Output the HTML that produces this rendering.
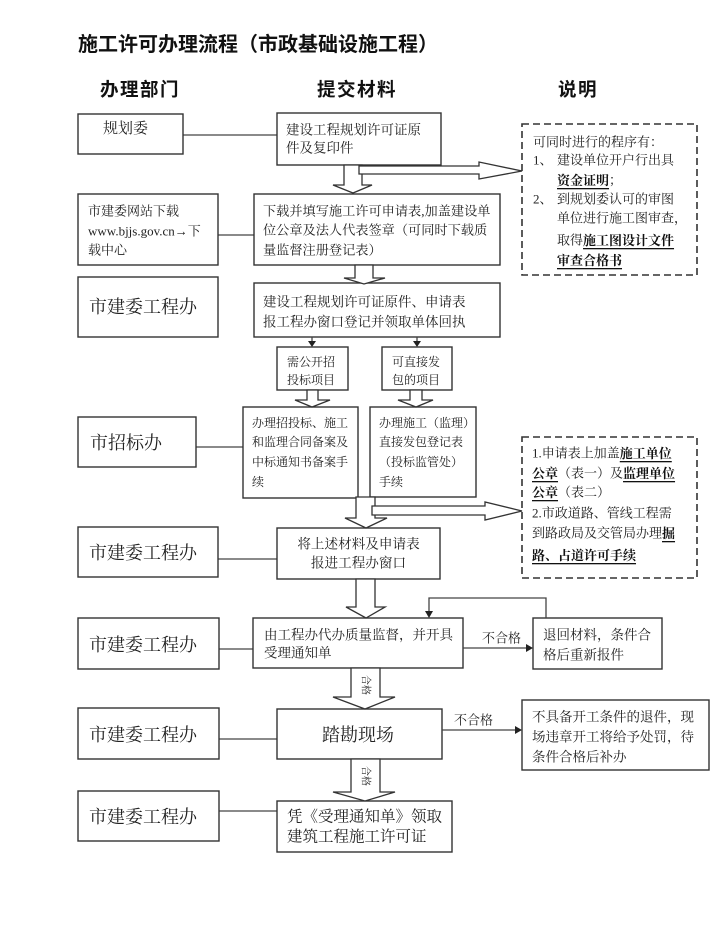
<!DOCTYPE html>
<html><head><meta charset="utf-8"><style>
html,body{margin:0;padding:0;background:#fff;}
svg{display:block;}
.t{font-family:"Liberation Serif","Noto Serif CJK SC",serif;fill:#222;dominant-baseline:central;}
.h{font-family:"Liberation Sans","Noto Sans CJK SC",sans-serif;font-weight:700;fill:#111;}
.b{font-weight:700;text-decoration:underline;fill:#111;}
.box{fill:#fff;stroke:#333;stroke-width:1.4;}
.dash{fill:#fff;stroke:#333;stroke-width:1.6;stroke-dasharray:7,4;}
.ln{stroke:#444;stroke-width:1.3;fill:none;}
.ha{fill:#fff;stroke:#333;stroke-width:1.3;}
</style></head><body>
<svg width="728" height="933" viewBox="0 0 728 933" xmlns="http://www.w3.org/2000/svg">
<rect width="728" height="933" fill="#fff"/>
<!-- titles -->
<text class="h" x="78" y="51" font-size="20">施工许可办理流程（市政基础设施工程）</text>
<text class="h" x="100" y="96" font-size="18.5" letter-spacing="1.5">办理部门</text>
<text class="h" x="317" y="96" font-size="18.5" letter-spacing="1.5">提交材料</text>
<text class="h" x="558" y="96" font-size="18.5" letter-spacing="1.5">说明</text>

<!-- connector lines left-right -->
<line class="ln" x1="183" y1="135" x2="277" y2="135"/>
<line class="ln" x1="218" y1="235" x2="254" y2="235"/>
<line class="ln" x1="196" y1="447" x2="243" y2="447"/>
<line class="ln" x1="218" y1="559" x2="277" y2="559"/>
<line class="ln" x1="219" y1="649" x2="253" y2="649"/>
<line class="ln" x1="219" y1="739" x2="277" y2="739"/>
<line class="ln" x1="219" y1="811" x2="277" y2="811"/>

<!-- left boxes -->
<rect class="box" x="78" y="114" width="105" height="40"/>
<text class="t" x="103" y="129" font-size="15">规划委</text>
<rect class="box" x="78" y="194" width="140" height="71"/>
<text class="t" x="88" y="211" font-size="13">市建委网站下载</text>
<text class="t" x="88" y="231" font-size="13">www.bjjs.gov.cn→下</text>
<text class="t" x="88" y="250" font-size="13">载中心</text>
<rect class="box" x="78" y="277" width="140" height="60"/>
<text class="t" x="89" y="307" font-size="18">市建委工程办</text>
<rect class="box" x="78" y="417" width="118" height="50"/>
<text class="t" x="90" y="443" font-size="18">市招标办</text>
<rect class="box" x="78" y="527" width="140" height="50"/>
<text class="t" x="89" y="553" font-size="18">市建委工程办</text>
<rect class="box" x="78" y="618" width="141" height="51"/>
<text class="t" x="89" y="645" font-size="18">市建委工程办</text>
<rect class="box" x="78" y="708" width="141" height="51"/>
<text class="t" x="89" y="735" font-size="18">市建委工程办</text>
<rect class="box" x="78" y="791" width="141" height="50"/>
<text class="t" x="89" y="817" font-size="18">市建委工程办</text>

<!-- middle boxes -->
<rect class="box" x="277" y="113" width="164" height="52"/>
<text class="t" x="286" y="130" font-size="13.5">建设工程规划许可证原</text>
<text class="t" x="286" y="148" font-size="13.5">件及复印件</text>

<rect class="box" x="254" y="194" width="246" height="71"/>
<text class="t" x="263" y="211" font-size="13.2">下载并填写施工许可申请表,加盖建设单</text>
<text class="t" x="263" y="230" font-size="13.2">位公章及法人代表签章（可同时下载质</text>
<text class="t" x="263" y="250" font-size="13.2">量监督注册登记表）</text>

<rect class="box" x="254" y="283" width="246" height="54"/>
<text class="t" x="263" y="302" font-size="13.5">建设工程规划许可证原件、申请表</text>
<text class="t" x="263" y="322" font-size="13.5">报工程办窗口登记并领取单体回执</text>

<!-- small arrows -->
<line class="ln" x1="312" y1="337" x2="312" y2="342"/>
<polygon points="308,341 316,341 312,347" fill="#222"/>
<line class="ln" x1="417" y1="337" x2="417" y2="342"/>
<polygon points="413,341 421,341 417,347" fill="#222"/>

<rect class="box" x="277" y="347" width="71" height="43"/>
<text class="t" x="287" y="362" font-size="12">需公开招</text>
<text class="t" x="287" y="380" font-size="12">投标项目</text>
<rect class="box" x="382" y="347" width="70" height="43"/>
<text class="t" x="392" y="362" font-size="12">可直接发</text>
<text class="t" x="392" y="380" font-size="12">包的项目</text>

<rect class="box" x="243" y="407" width="115" height="91"/>
<text class="t" x="252" y="423" font-size="12">办理招投标、施工</text>
<text class="t" x="252" y="442" font-size="12">和监理合同备案及</text>
<text class="t" x="252" y="462" font-size="12">中标通知书备案手</text>
<text class="t" x="252" y="482" font-size="12">续</text>
<rect class="box" x="370" y="407" width="106" height="90"/>
<text class="t" x="379" y="423" font-size="12">办理施工（监理）</text>
<text class="t" x="379" y="442" font-size="12">直接发包登记表</text>
<text class="t" x="379" y="462" font-size="12">（投标监管处）</text>
<text class="t" x="379" y="482" font-size="12">手续</text>

<rect class="box" x="277" y="528" width="163" height="51"/>
<text class="t" x="358.5" y="544" font-size="13.6" text-anchor="middle">将上述材料及申请表</text>
<text class="t" x="358.5" y="563" font-size="13.6" text-anchor="middle">报进工程办窗口</text>

<rect class="box" x="253" y="618" width="210" height="50"/>
<text class="t" x="264" y="635" font-size="13.5">由工程办代办质量监督，并开具</text>
<text class="t" x="264" y="653" font-size="13.5">受理通知单</text>

<rect class="box" x="533" y="618" width="129" height="51"/>
<text class="t" x="543" y="635" font-size="13.5">退回材料，条件合</text>
<text class="t" x="543" y="655" font-size="13.5">格后重新报件</text>

<!-- 不合格 arrow 1 -->
<line class="ln" x1="463" y1="648" x2="527" y2="648"/>
<polygon points="526,644 526,652 533,648" fill="#222"/>
<text class="t" x="482" y="638" font-size="13">不合格</text>
<!-- return path -->
<polyline class="ln" points="546,618 546,598 429,598 429,611"/>
<polygon points="425,611 433,611 429,618" fill="#222"/>

<rect class="box" x="277" y="709" width="165" height="50"/>
<text class="t" x="358" y="735" font-size="18" text-anchor="middle">踏勘现场</text>

<line class="ln" x1="442" y1="730" x2="516" y2="730"/>
<polygon points="515,726 515,734 522,730" fill="#222"/>
<text class="t" x="454" y="720" font-size="13">不合格</text>

<rect class="box" x="522" y="700" width="187" height="70"/>
<text class="t" x="532" y="717" font-size="13.5">不具备开工条件的退件，现</text>
<text class="t" x="532" y="737" font-size="13.5">场违章开工将给予处罚，待</text>
<text class="t" x="532" y="757" font-size="13.5">条件合格后补办</text>

<rect class="box" x="277" y="801" width="175" height="51"/>
<text class="t" x="287" y="817" font-size="15.5">凭《受理通知单》领取</text>
<text class="t" x="287" y="837" font-size="15.5">建筑工程施工许可证</text>

<!-- dashed boxes -->
<rect class="dash" x="522" y="124" width="175" height="151"/>
<text class="t" x="533" y="142" font-size="13">可同时进行的程序有：</text>
<text class="t" x="533" y="160" font-size="13">1、</text>
<text class="t" x="557" y="160" font-size="13">建设单位开户行出具</text>
<text class="t" x="557" y="180" font-size="13"><tspan class="b">资金证明</tspan>；</text>
<text class="t" x="533" y="199" font-size="13">2、</text>
<text class="t" x="557" y="199" font-size="13">到规划委认可的审图</text>
<text class="t" x="557" y="218" font-size="13">单位进行施工图审查，</text>
<text class="t" x="557" y="240" font-size="13">取得<tspan class="b">施工图设计文件</tspan></text>
<text class="t" x="557" y="260" font-size="13"><tspan class="b">审查合格书</tspan></text>

<rect class="dash" x="522" y="437" width="175" height="141"/>
<text class="t" x="532" y="453" font-size="13">1.申请表上加盖<tspan class="b">施工单位</tspan></text>
<text class="t" x="532" y="473" font-size="13"><tspan class="b">公章</tspan>（表一）及<tspan class="b">监理单位</tspan></text>
<text class="t" x="532" y="492" font-size="13"><tspan class="b">公章</tspan>（表二）</text>
<text class="t" x="532" y="513" font-size="13">2.市政道路、管线工程需</text>
<text class="t" x="532" y="533" font-size="13">到路政局及交管局办理<tspan class="b">掘</tspan></text>
<text class="t" x="532" y="555" font-size="13"><tspan class="b">路、占道许可手续</tspan></text>

<!-- hollow arrows -->
<polygon class="ha" points="344,165 344,185 333,185 353,193 372,185 362,185 362,165"/>
<polygon class="ha" points="359,166 479,166 479,162 522,171 479,179 479,174 359,174"/>
<polygon class="ha" points="355,265 355,278 344,278 364,284 385,278 373,278 373,265"/>
<polygon class="ha" points="307,390 307,400 295,400 312,407 330,400 318,400 318,390"/>
<polygon class="ha" points="410,390 410,400 398,400 416,407 433,400 422,400 422,390"/>
<polygon class="ha" points="356,497 356,518 345,518 366,528 387,518 375,518 375,497"/>
<polygon class="ha" points="372,506 485,506 485,502 522,511 485,520 485,515 372,515"/>
<polygon class="ha" points="356,579 356,607 346,607 366,618 385,607 375,607 375,579"/>
<polygon class="ha" points="351,668 351,697 333,697 365,709 395,697 380,697 380,668"/>
<text class="t" font-size="10" text-anchor="middle" transform="translate(365,685) rotate(90)">合格</text>
<polygon class="ha" points="351,759 351,792 333,792 365,801 395,792 380,792 380,759"/>
<text class="t" font-size="10" text-anchor="middle" transform="translate(365,776) rotate(90)">合格</text>
</svg>
</body></html>
